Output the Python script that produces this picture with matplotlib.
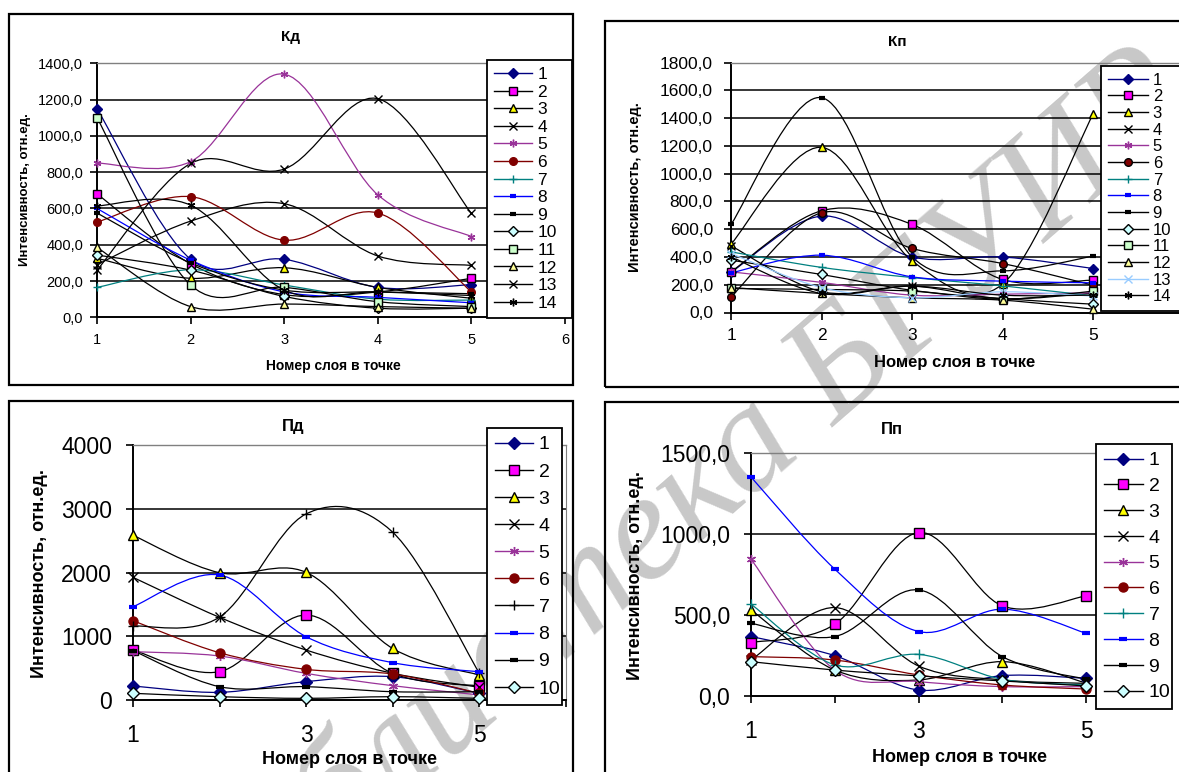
import numpy as np
import matplotlib
matplotlib.use("Agg")
import matplotlib.pyplot as plt
from matplotlib.path import Path
from matplotlib.patches import PathPatch, Rectangle
from matplotlib.lines import Line2D

plt.rcParams['font.family'] = ['Liberation Sans', 'DejaVu Sans']

W, H = 1179, 772

layers = [1, 2, 3, 4, 5]

# Кд, series 1..14
kd_values = [
    [1150, 320, 320, 165, 180],
    [680, 295, 125, 140, 215],
    [325, 215, 273, 165, 105],
    [290, 530, 626, 338, 286],
    [850, 858, 1340, 675, 445],
    [525, 665, 425, 575, 140],
    [165, 262, 178, 100, 95],
    [600, 315, 140, 110, 80],
    [575, 300, 150, 140, 130],
    [343, 260, 115, 50, 50],
    [1100, 178, 165, 86, 59],
    [385, 59, 73, 59, 50],
    [260, 848, 817, 1205, 573],
    [614, 618, 150, 140, 120],
]

# Кп, series 1..14
kp_values = [
    [290, 695, 400, 400, 317],
    [293, 733, 635, 238, 233],
    [493, 1190, 373, 204, 1428],
    [480, 150, 190, 100, 140],
    [293, 217, 125, 132, 142],
    [113, 719, 462, 353, 197],
    [437, 325, 252, 192, 120],
    [286, 413, 257, 226, 214],
    [635, 1548, 401, 300, 406],
    [377, 274, 160, 100, 60],
    [173, 166, 154, 96, 154],
    [180, 137, 106, 89, 24],
    [425, 180, 106, 149, 118],
    [401, 137, 190, 125, 125],
]

# Пд, series 1..10
pd_values = [
    [220, 120, 288, 366, 105],
    [784, 444, 1333, 418, 220],
    [2583, 1997, 2003, 810, 392],
    [1924, 1297, 784, 420, 200],
    [758, 690, 418, 225, 80],
    [1244, 742, 481, 408, 105],
    [1160, 1300, 2918, 2635, 430],
    [1464, 1961, 994, 586, 444],
    [774, 209, 209, 130, 130],
    [105, 52, 26, 52, 26],
]

# Пп, series 1..10
pp_values = [
    [367, 249, 37, 126, 109],
    [330, 443, 1009, 556, 618],
    [531, 160, 99, 212, 80],
    [222, 546, 185, 99, 78],
    [845, 160, 89, 58, 58],
    [243, 222, 130, 68, 43],
    [567, 192, 257, 103, 68],
    [1352, 783, 398, 536, 387],
    [449, 367, 655, 243, 103],
    [212, 160, 124, 93, 62],
]

kd_ticks = [0, 200, 400, 600, 800, 1000, 1200, 1400]
kd_ticklabels = ['0,0', '200,0', '400,0', '600,0', '800,0', '1000,0', '1200,0', '1400,0']
kp_ticks = [0, 200, 400, 600, 800, 1000, 1200, 1400, 1600, 1800]
kp_ticklabels = ['0,0', '200,0', '400,0', '600,0', '800,0', '1000,0', '1200,0', '1400,0', '1600,0', '1800,0']
pd_ticks = [0, 1000, 2000, 3000, 4000]
pd_ticklabels = ['0', '1000', '2000', '3000', '4000']
pp_ticks = [0, 500, 1000, 1500]
pp_ticklabels = ['0,0', '500,0', '1000,0', '1500,0']

NAVY, MAG, YEL, PUR, DRED, TEAL, BLUE = '#000080', '#FF00FF', '#FFFF00', '#993399', '#800000', '#008080', '#0000FF'
LBLUE = '#99CCFF'
markers = ['D', 's', '^', 'x', (6, 2, 0), 'o', '+', '_', '_', 'D', 's', '^', 'x', (6, 2, 0)]
face = [NAVY, MAG, YEL, 'k', PUR, DRED, TEAL, BLUE, 'k', '#CCFFFF', '#CCFFCC', '#FFFF99', 'k', 'k']
edge = [NAVY, 'k', 'k', 'k', PUR, DRED, TEAL, BLUE, 'k', 'k', 'k', 'k', 'k', 'k']

kd_lines = [NAVY, 'k', 'k', 'k', PUR, DRED, TEAL, BLUE, 'k', 'k', 'k', 'k', 'k', 'k']
kp_lines = [NAVY, 'k', 'k', 'k', PUR, 'k', TEAL, BLUE, 'k', 'k', 'k', 'k', LBLUE, 'k']
pd_lines = [NAVY, 'k', 'k', 'k', PUR, DRED, 'k', BLUE, 'k', 'k']
pp_lines = [NAVY, 'k', 'k', 'k', PUR, DRED, TEAL, BLUE, 'k', 'k']

# marker colour changes per chart: series index -> (face, edge)
kd_marks = {}
kp_marks = {5: (DRED, 'k'), 12: (LBLUE, LBLUE)}
pd_marks = {6: ('k', 'k')}
pp_marks = {}

fig = plt.figure(figsize=(W / 100, H / 100), dpi=100)

# watermark, under the charts
fig.text(1200 / W, 1 - 110 / H, 'Библиотека БГУИР', rotation=41, rotation_mode='anchor',
         fontsize=110, style='italic', family='Liberation Serif', color='#c8c8c8',
         ha='right', va='baseline', zorder=-1)


def smooth(xs, ys):
    pts = np.column_stack([xs, ys]).astype(float)
    ext = np.vstack([pts[0], pts, pts[-1]])
    verts, codes = [pts[0]], [Path.MOVETO]
    for i in range(len(pts) - 1):
        p0, p1, p2, p3 = ext[i], ext[i + 1], ext[i + 2], ext[i + 3]
        verts += [p1 + (p2 - p0) / 6, p2 - (p3 - p1) / 6, p2]
        codes += [Path.CURVE4] * 3
    return Path(verts, codes)


def box(x0, y0, x1, y1):
    fig.add_artist(Rectangle((x0 / W, 1 - y1 / H), (x1 - x0) / W, (y1 - y0) / H,
                             transform=fig.transFigure, fill=False, ec='k', lw=1.6))


def panel(rect, values, lines, marks, yticks, ylabels, xstep, tfs, ypad, xpad, ms, title, tpos,
          ylpos, xlpos, lfs, leg, legfs, legsp, hl, bp):
    x0, x1, yt, yb = rect
    ax = fig.add_axes([x0 / W, 1 - yb / H, (x1 - x0) / W, (yb - yt) / H])
    ax.patch.set_alpha(0)
    ax.set_xlim(1, 6)
    ax.set_ylim(0, yticks[-1])
    ax.set_yticks(yticks)
    ax.set_yticklabels(ylabels, fontsize=tfs)
    ax.set_xticks([1, 2, 3, 4, 5, 6])
    ax.set_xticklabels([str(v) if (v - 1) % xstep == 0 else '' for v in range(1, 7)], fontsize=tfs)
    for v in yticks[1:-1]:
        ax.axhline(v, color='k', lw=1.1, zorder=1)
    ax.spines['top'].set_color('#808080')
    ax.spines['right'].set_color('#808080')
    ax.spines['top'].set_linewidth(1.0)
    ax.spines['right'].set_linewidth(0.8)
    ax.spines['left'].set_linewidth(1.4)
    ax.spines['bottom'].set_linewidth(1.4)
    ax.tick_params(axis='y', direction='out', length=5, width=1.2, pad=ypad)
    ax.tick_params(axis='x', direction='out', length=5, width=1.2, pad=xpad)
    handles = []
    for i, ys in enumerate(values):
        fc, ec = marks.get(i, (face[i], edge[i]))
        ax.add_patch(PathPatch(smooth(layers, ys), fill=False, ec=lines[i], lw=0.9, zorder=3))
        mew = 3 if markers[i] == '_' else 1.0
        msz = ms * 0.9 if markers[i] == '_' else ms
        ax.plot(layers, ys, ls='none', marker=markers[i], ms=msz, mfc=fc, mec=ec, mew=mew,
                zorder=4, clip_on=False)
        handles.append(Line2D([0], [0], color=lines[i], lw=1.0, marker=markers[i], ms=msz,
                              mfc=fc, mec=ec, mew=mew))
    lx0, ly0, lx1, ly1 = leg
    lg = ax.legend(handles, [str(i + 1) for i in range(len(values))], loc='upper left',
                   bbox_to_anchor=(lx0 / W, 1 - ly1 / H, (lx1 - lx0) / W, (ly1 - ly0) / H),
                   bbox_transform=fig.transFigure, mode='expand', borderaxespad=0,
                   fontsize=legfs, labelspacing=legsp, handlelength=hl, handletextpad=0.3,
                   borderpad=bp, fancybox=False, framealpha=1, edgecolor='k')
    lg.get_frame().set_linewidth(1.3)
    lg.set_zorder(10)
    fig.text(tpos[0] / W, 1 - tpos[1] / H, title, ha='center', va='center', fontsize=lfs[0],
             fontweight='bold')
    fig.text(ylpos[0] / W, 1 - ylpos[1] / H, 'Интенсивность, отн.ед.', rotation=90, ha='center',
             va='center', fontsize=lfs[1], fontweight='bold')
    fig.text(xlpos[0] / W, 1 - xlpos[1] / H, 'Номер слоя в точке', ha='center', va='center',
             fontsize=lfs[2], fontweight='bold')
    return ax


box(9, 14, 573, 385)
box(605, 21, 1195, 387)
box(9, 401, 573, 790)
box(605, 402, 1195, 790)

panel((97, 565, 63.3, 317.3), kd_values, kd_lines, kd_marks, kd_ticks, kd_ticklabels, 1, 10.5, 5, 6,
      5.5, 'Кд', (291, 37), (25, 190), (333, 366), (11, 9.5, 10), (487, 60, 572, 316),
      12.5, 0.14, 2.2, 0.4)
panel((731, 1183.5, 62.7, 312.5), kp_values, kp_lines, kp_marks, kp_ticks, kp_ticklabels, 1, 12.5, 8, 6,
      5.5, 'Кп', (897, 42), (635, 187), (955, 363), (11, 10.5, 12), (1101, 66, 1195, 312),
      12, 0.1, 2.4, 0.4)
panel((133, 565.5, 445, 700), pd_values, pd_lines, pd_marks, pd_ticks, pd_ticklabels, 2, 16.5, 10, 12,
      6.5, 'Пд', (293, 427), (40, 573), (349, 760), (12, 13, 13), (487, 428, 562, 705),
      14, 0.49, 1.95, 0.4)
panel((751, 1170, 453, 696), pp_values, pp_lines, pp_marks, pp_ticks, pp_ticklabels, 2, 16.5, 10, 12,
      6.5, 'Пп', (892, 430), (636, 575), (960, 758), (12, 13, 13), (1096, 444, 1172, 707),
      14, 0.42, 2.0, 0.4)

fig.savefig('out.png', dpi=100)
